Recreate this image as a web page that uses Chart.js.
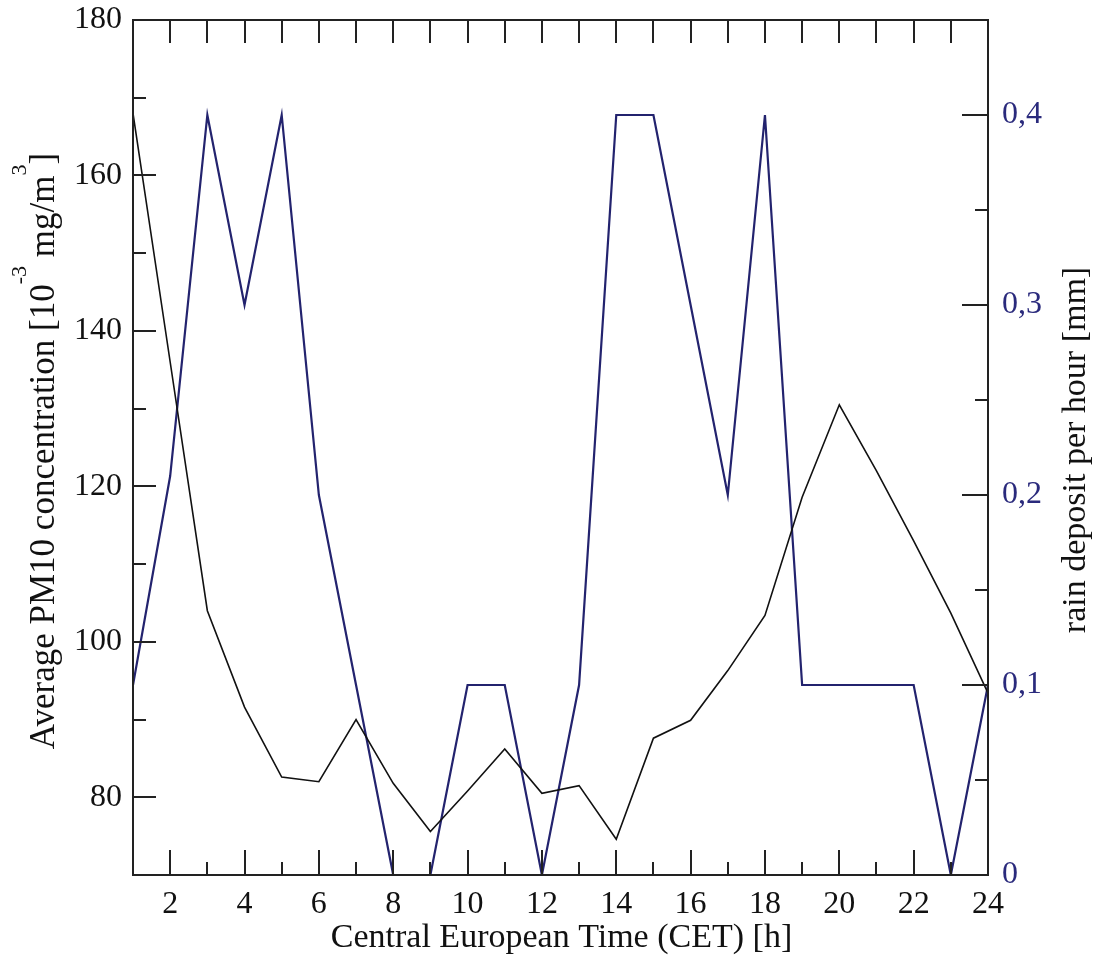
<!DOCTYPE html>
<html><head><meta charset="utf-8">
<script src="https://cdn.jsdelivr.net/npm/chart.js@4/dist/chart.umd.min.js"></script>
<style>html,body{margin:0;padding:0;background:#fff}canvas{display:block}</style>
</head><body>
<canvas id="c" width="1093" height="956"></canvas>
<script>
// ---- data ----
const hours = [1,2,3,4,5,6,7,8,9,10,11,12,13,14,15,16,17,18,19,20,21,22,23,24];
const pm10 = [168,136,104,91.6,82.6,82,90,81.8,75.6,80.8,86.2,80.5,81.5,74.6,87.6,89.9,96.3,103.4,118.6,130.5,122,113,103.7,93.4];
const rain = [0.1,0.21,0.4,0.3,0.4,0.2,0.1,0,0,0.1,0.1,0,0.1,0.4,0.4,0.3,0.2,0.4,0.1,0.1,0.1,0.1,0,0.1];
const xTicks = [2,4,6,8,10,12,14,16,18,20,22,24];
const xMinorTicks = [1,3,5,7,9,11,13,15,17,19,21,23];
const yTicks = [80,100,120,140,160,180];
const yMinorTicks = [90,110,130,150,170];
const y2Ticks = [0,0.1,0.2,0.3,0.4];
const y2MinorTicks = [0.05,0.15,0.25,0.35];
const xTitle = 'Central European Time (CET) [h]';
const yTitleParts = [['Average PM10 concentration [10',0],['-3',1],[' mg/m',0],['3',1],[']',0]];
const y2Title = 'rain deposit per hour [mm]';

const FONT = "'Liberation Serif','Times New Roman',serif";
const NAVY = '#2a2a7c';

const ticksPlugin = {
  id: 'frameTicks',
  afterDraw(chart) {
    const ctx = chart.ctx;
    const a = chart.chartArea;
    const sx = chart.scales.x, sy = chart.scales.y, sy2 = chart.scales.y2;
    ctx.save();
    ctx.strokeStyle = '#222';
    ctx.lineWidth = 2;
    ctx.beginPath();
    xTicks.forEach(v => { const p = Math.round(sx.getPixelForValue(v)); ctx.moveTo(p, a.bottom); ctx.lineTo(p, a.bottom - 25); });
    xMinorTicks.forEach(v => { const p = Math.round(sx.getPixelForValue(v)); ctx.moveTo(p, a.bottom); ctx.lineTo(p, a.bottom - 13); });
    xTicks.concat(xMinorTicks).forEach(v => { const p = Math.round(sx.getPixelForValue(v)); ctx.moveTo(p, a.top); ctx.lineTo(p, a.top + 23); });
    yTicks.forEach(v => { const p = Math.round(sy.getPixelForValue(v)); ctx.moveTo(a.left, p); ctx.lineTo(a.left + 23, p); });
    yMinorTicks.forEach(v => { const p = Math.round(sy.getPixelForValue(v)); ctx.moveTo(a.left, p); ctx.lineTo(a.left + 13, p); });
    y2Ticks.forEach(v => { const p = Math.round(sy2.getPixelForValue(v)); ctx.moveTo(a.right, p); ctx.lineTo(a.right - 26, p); });
    y2MinorTicks.forEach(v => { const p = Math.round(sy2.getPixelForValue(v)); ctx.moveTo(a.right, p); ctx.lineTo(a.right - 13, p); });
    ctx.stroke();
    ctx.strokeRect(a.left, a.top, a.right - a.left, a.bottom - a.top);

    ctx.fillStyle = '#111';
    ctx.font = '34px ' + FONT;
    ctx.textAlign = 'center';
    ctx.textBaseline = 'alphabetic';
    ctx.fillText(xTitle, (a.left + a.right) / 2 + 1, 947);

    ctx.save();
    ctx.translate(1085, 450);
    ctx.rotate(-Math.PI / 2);
    ctx.fillText(y2Title, 0, 0);
    ctx.restore();

    ctx.save();
    ctx.translate(54, 451);
    ctx.rotate(-Math.PI / 2);
    ctx.textAlign = 'left';
    const big = '35px ' + FONT, small = '22px ' + FONT;
    let total = 0;
    yTitleParts.forEach(([t, s]) => { ctx.font = s ? small : big; total += ctx.measureText(t).width; });
    let xx = -total / 2;
    yTitleParts.forEach(([t, s]) => {
      ctx.font = s ? small : big;
      ctx.fillText(t, xx, s ? -28 : 0);
      xx += ctx.measureText(t).width;
    });
    ctx.restore();
    ctx.restore();
  }
};

const pts = (xs, ys) => xs.map((x, i) => ({ x, y: ys[i] }));
const noPadV = s => { s.paddingTop = 0; s.paddingBottom = 0; };

new Chart(document.getElementById('c'), {
  type: 'line',
  data: {
    datasets: [
      { label: 'PM10', data: pts(hours, pm10), yAxisID: 'y', borderColor: '#111', borderWidth: 1.6, pointRadius: 0, tension: 0, fill: false },
      { label: 'rain', data: pts(hours, rain), yAxisID: 'y2', borderColor: '#23236e', borderWidth: 2.2, pointRadius: 0, tension: 0, fill: false }
    ]
  },
  options: {
    responsive: false,
    animation: false,
    devicePixelRatio: 1,
    layout: { padding: { top: 20, left: 0, right: 0, bottom: 0 } },
    plugins: { legend: { display: false }, tooltip: { enabled: false }, title: { display: false } },
    scales: {
      x: {
        type: 'linear', position: 'bottom', min: 1, max: 24,
        afterBuildTicks: s => { s.ticks = xTicks.map(v => ({ value: v })); },
        afterFit: s => { s.height = 81; s.paddingLeft = 0; s.paddingRight = 0; },
        grid: { display: false, drawTicks: false },
        border: { display: false },
        ticks: { font: { family: FONT, size: 32 }, color: '#111', padding: 10, maxRotation: 0, autoSkip: false, callback: v => String(v) }
      },
      y: {
        type: 'linear', position: 'left', min: 70, max: 180,
        afterBuildTicks: s => { s.ticks = yTicks.map(v => ({ value: v })); },
        afterFit: s => { s.width = 133; noPadV(s); },
        grid: { display: false, drawTicks: false },
        border: { display: false },
        ticks: { font: { family: FONT, size: 32 }, color: '#111', padding: 11, callback: v => String(v) }
      },
      y2: {
        type: 'linear', position: 'right', min: 0, max: 0.45,
        afterBuildTicks: s => { s.ticks = y2Ticks.map(v => ({ value: v })); },
        afterFit: s => { s.width = 105; noPadV(s); },
        grid: { display: false, drawTicks: false },
        border: { display: false },
        ticks: { font: { family: FONT, size: 32 }, color: NAVY, padding: 14, callback: v => String(v).replace('.', ',') }
      }
    }
  },
  plugins: [ticksPlugin]
});
</script>
</body></html>
